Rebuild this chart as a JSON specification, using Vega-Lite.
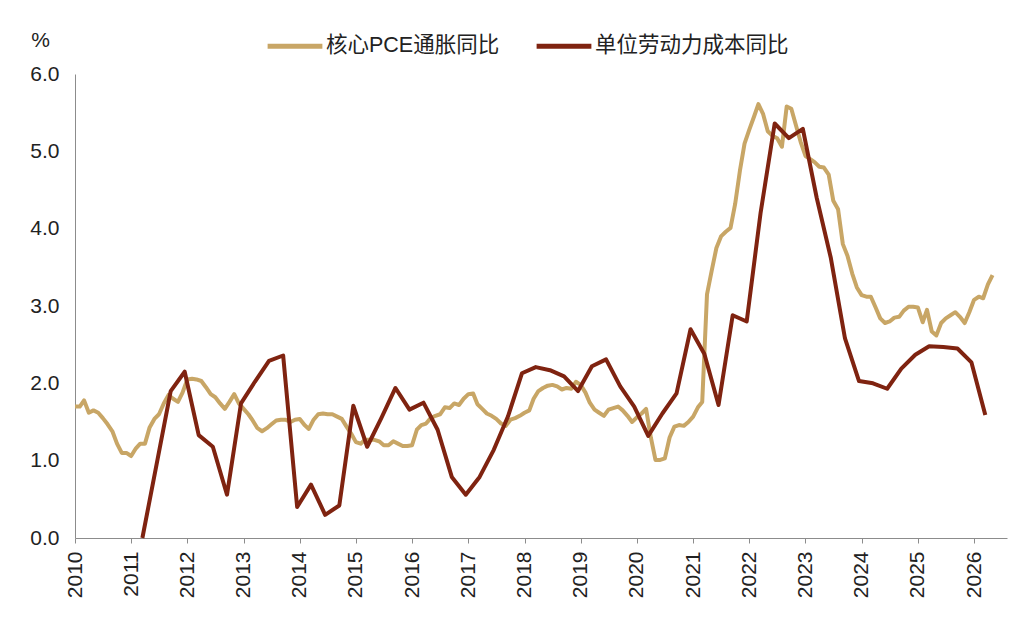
{
  "$schema": "https://vega.github.io/schema/vega-lite/v6.json",
  "width": 932,
  "height": 464,
  "autosize": "none",
  "padding": {"left": 75, "top": 74, "right": 18, "bottom": 89},
  "background": "white",
  "config": {
    "view": {"stroke": null},
    "font": "Liberation Sans, Noto Sans CJK SC",
    "axis": {
      "grid": false,
      "domainColor": "#8c8c8c",
      "tickColor": "#8c8c8c",
      "labelColor": "#222222",
      "labelFont": "Liberation Sans",
      "labelFontSize": 21,
      "titleColor": "#222222"
    }
  },
  "encoding": {
    "x": {
      "field": "date",
      "type": "temporal",
      "scale": {
        "type": "utc",
        "nice": false,
        "domain": [
          {"year": 2010, "month": 1, "date": 1, "utc": true},
          {"year": 2026, "month": 8, "date": 3, "utc": true}
        ]
      },
      "axis": {
        "title": null,
        "format": "%Y",
        "tickCount": {"interval": "year", "step": 1},
        "labelAngle": 270,
        "labelPadding": 8,
        "tickSize": 5,
        "labelFlush": false,
        "labelOverlap": false
      }
    },
    "y": {
      "field": "value",
      "type": "quantitative",
      "scale": {"domain": [0, 6], "nice": false},
      "axis": {
        "values": [0, 1, 2, 3, 4, 5, 6],
        "format": ".1f",
        "ticks": false,
        "labelPadding": 16,
        "title": "%",
        "titleAngle": 0,
        "titleX": -35,
        "titleY": -34,
        "titleAlign": "center",
        "titleBaseline": "middle",
        "titleFontSize": 21,
        "titleFontWeight": "normal",
        "titleFont": "Liberation Sans"
      }
    }
  },
  "layer": [
    {
      "data": {
        "values": [
          {"date": "2010-01-01", "value": 1.70}, {"date": "2010-02-01", "value": 1.70}, {"date": "2010-03-01", "value": 1.78}, {"date": "2010-04-01", "value": 1.62},
          {"date": "2010-05-01", "value": 1.65}, {"date": "2010-06-01", "value": 1.62}, {"date": "2010-07-01", "value": 1.55}, {"date": "2010-08-01", "value": 1.47},
          {"date": "2010-09-01", "value": 1.38}, {"date": "2010-10-01", "value": 1.22}, {"date": "2010-11-01", "value": 1.10}, {"date": "2010-12-01", "value": 1.10},
          {"date": "2011-01-01", "value": 1.06}, {"date": "2011-02-01", "value": 1.16}, {"date": "2011-03-01", "value": 1.22}, {"date": "2011-04-01", "value": 1.22},
          {"date": "2011-05-01", "value": 1.43}, {"date": "2011-06-01", "value": 1.54}, {"date": "2011-07-01", "value": 1.60}, {"date": "2011-08-01", "value": 1.74},
          {"date": "2011-09-01", "value": 1.85}, {"date": "2011-10-01", "value": 1.80}, {"date": "2011-11-01", "value": 1.76}, {"date": "2011-12-01", "value": 1.88},
          {"date": "2012-01-01", "value": 2.05}, {"date": "2012-02-01", "value": 2.06}, {"date": "2012-03-01", "value": 2.05}, {"date": "2012-04-01", "value": 2.03},
          {"date": "2012-05-01", "value": 1.95}, {"date": "2012-06-01", "value": 1.86}, {"date": "2012-07-01", "value": 1.82}, {"date": "2012-08-01", "value": 1.74},
          {"date": "2012-09-01", "value": 1.67}, {"date": "2012-10-01", "value": 1.76}, {"date": "2012-11-01", "value": 1.86}, {"date": "2012-12-01", "value": 1.74},
          {"date": "2013-01-01", "value": 1.67}, {"date": "2013-02-01", "value": 1.60}, {"date": "2013-03-01", "value": 1.52}, {"date": "2013-04-01", "value": 1.42},
          {"date": "2013-05-01", "value": 1.38}, {"date": "2013-06-01", "value": 1.42}, {"date": "2013-07-01", "value": 1.47}, {"date": "2013-08-01", "value": 1.52},
          {"date": "2013-09-01", "value": 1.53}, {"date": "2013-10-01", "value": 1.53}, {"date": "2013-11-01", "value": 1.50}, {"date": "2013-12-01", "value": 1.53},
          {"date": "2014-01-01", "value": 1.54}, {"date": "2014-02-01", "value": 1.46}, {"date": "2014-03-01", "value": 1.41}, {"date": "2014-04-01", "value": 1.53},
          {"date": "2014-05-01", "value": 1.60}, {"date": "2014-06-01", "value": 1.61}, {"date": "2014-07-01", "value": 1.60}, {"date": "2014-08-01", "value": 1.60},
          {"date": "2014-09-01", "value": 1.57}, {"date": "2014-10-01", "value": 1.54}, {"date": "2014-11-01", "value": 1.44}, {"date": "2014-12-01", "value": 1.35},
          {"date": "2015-01-01", "value": 1.24}, {"date": "2015-02-01", "value": 1.22}, {"date": "2015-03-01", "value": 1.27}, {"date": "2015-04-01", "value": 1.27},
          {"date": "2015-05-01", "value": 1.27}, {"date": "2015-06-01", "value": 1.25}, {"date": "2015-07-01", "value": 1.20}, {"date": "2015-08-01", "value": 1.20},
          {"date": "2015-09-01", "value": 1.25}, {"date": "2015-10-01", "value": 1.22}, {"date": "2015-11-01", "value": 1.19}, {"date": "2015-12-01", "value": 1.19},
          {"date": "2016-01-01", "value": 1.20}, {"date": "2016-02-01", "value": 1.40}, {"date": "2016-03-01", "value": 1.46}, {"date": "2016-04-01", "value": 1.48},
          {"date": "2016-05-01", "value": 1.55}, {"date": "2016-06-01", "value": 1.58}, {"date": "2016-07-01", "value": 1.60}, {"date": "2016-08-01", "value": 1.69},
          {"date": "2016-09-01", "value": 1.68}, {"date": "2016-10-01", "value": 1.74}, {"date": "2016-11-01", "value": 1.72}, {"date": "2016-12-01", "value": 1.80},
          {"date": "2017-01-01", "value": 1.86}, {"date": "2017-02-01", "value": 1.87}, {"date": "2017-03-01", "value": 1.73}, {"date": "2017-04-01", "value": 1.67},
          {"date": "2017-05-01", "value": 1.61}, {"date": "2017-06-01", "value": 1.58}, {"date": "2017-07-01", "value": 1.54}, {"date": "2017-08-01", "value": 1.48},
          {"date": "2017-09-01", "value": 1.45}, {"date": "2017-10-01", "value": 1.53}, {"date": "2017-11-01", "value": 1.55}, {"date": "2017-12-01", "value": 1.58},
          {"date": "2018-01-01", "value": 1.62}, {"date": "2018-02-01", "value": 1.65}, {"date": "2018-03-01", "value": 1.80}, {"date": "2018-04-01", "value": 1.90},
          {"date": "2018-05-01", "value": 1.94}, {"date": "2018-06-01", "value": 1.97}, {"date": "2018-07-01", "value": 1.98}, {"date": "2018-08-01", "value": 1.96},
          {"date": "2018-09-01", "value": 1.92}, {"date": "2018-10-01", "value": 1.94}, {"date": "2018-11-01", "value": 1.93}, {"date": "2018-12-01", "value": 2.02},
          {"date": "2019-01-01", "value": 1.98}, {"date": "2019-02-01", "value": 1.88}, {"date": "2019-03-01", "value": 1.75}, {"date": "2019-04-01", "value": 1.66},
          {"date": "2019-05-01", "value": 1.62}, {"date": "2019-06-01", "value": 1.58}, {"date": "2019-07-01", "value": 1.66}, {"date": "2019-08-01", "value": 1.68},
          {"date": "2019-09-01", "value": 1.70}, {"date": "2019-10-01", "value": 1.65}, {"date": "2019-11-01", "value": 1.58}, {"date": "2019-12-01", "value": 1.50},
          {"date": "2020-01-01", "value": 1.56}, {"date": "2020-02-01", "value": 1.61}, {"date": "2020-03-01", "value": 1.67}, {"date": "2020-04-01", "value": 1.30},
          {"date": "2020-05-01", "value": 1.01}, {"date": "2020-06-01", "value": 1.01}, {"date": "2020-07-01", "value": 1.03}, {"date": "2020-08-01", "value": 1.30},
          {"date": "2020-09-01", "value": 1.44}, {"date": "2020-10-01", "value": 1.46}, {"date": "2020-11-01", "value": 1.45}, {"date": "2020-12-01", "value": 1.50},
          {"date": "2021-01-01", "value": 1.57}, {"date": "2021-02-01", "value": 1.69}, {"date": "2021-03-01", "value": 1.76}, {"date": "2021-04-01", "value": 3.15},
          {"date": "2021-05-01", "value": 3.45}, {"date": "2021-06-01", "value": 3.75}, {"date": "2021-07-01", "value": 3.90}, {"date": "2021-08-01", "value": 3.96},
          {"date": "2021-09-01", "value": 4.01}, {"date": "2021-10-01", "value": 4.32}, {"date": "2021-11-01", "value": 4.75}, {"date": "2021-12-01", "value": 5.10},
          {"date": "2022-01-01", "value": 5.28}, {"date": "2022-02-01", "value": 5.45}, {"date": "2022-03-01", "value": 5.61}, {"date": "2022-04-01", "value": 5.48},
          {"date": "2022-05-01", "value": 5.26}, {"date": "2022-06-01", "value": 5.20}, {"date": "2022-07-01", "value": 5.17}, {"date": "2022-08-01", "value": 5.06},
          {"date": "2022-09-01", "value": 5.58}, {"date": "2022-10-01", "value": 5.55}, {"date": "2022-11-01", "value": 5.33}, {"date": "2022-12-01", "value": 5.12},
          {"date": "2023-01-01", "value": 4.94}, {"date": "2023-02-01", "value": 4.90}, {"date": "2023-03-01", "value": 4.86}, {"date": "2023-04-01", "value": 4.80},
          {"date": "2023-05-01", "value": 4.79}, {"date": "2023-06-01", "value": 4.70}, {"date": "2023-07-01", "value": 4.36}, {"date": "2023-08-01", "value": 4.25},
          {"date": "2023-09-01", "value": 3.80}, {"date": "2023-10-01", "value": 3.65}, {"date": "2023-11-01", "value": 3.42}, {"date": "2023-12-01", "value": 3.24},
          {"date": "2024-01-01", "value": 3.14}, {"date": "2024-02-01", "value": 3.12}, {"date": "2024-03-01", "value": 3.12}, {"date": "2024-04-01", "value": 2.98},
          {"date": "2024-05-01", "value": 2.84}, {"date": "2024-06-01", "value": 2.78}, {"date": "2024-07-01", "value": 2.80}, {"date": "2024-08-01", "value": 2.85},
          {"date": "2024-09-01", "value": 2.86}, {"date": "2024-10-01", "value": 2.94}, {"date": "2024-11-01", "value": 2.99}, {"date": "2024-12-01", "value": 2.99},
          {"date": "2025-01-01", "value": 2.98}, {"date": "2025-02-01", "value": 2.79}, {"date": "2025-03-01", "value": 2.95}, {"date": "2025-04-01", "value": 2.67},
          {"date": "2025-05-01", "value": 2.62}, {"date": "2025-06-01", "value": 2.78}, {"date": "2025-07-01", "value": 2.84}, {"date": "2025-08-01", "value": 2.88},
          {"date": "2025-09-01", "value": 2.92}, {"date": "2025-10-01", "value": 2.86}, {"date": "2025-11-01", "value": 2.78}, {"date": "2025-12-01", "value": 2.92},
          {"date": "2026-01-01", "value": 3.08}, {"date": "2026-02-01", "value": 3.12}, {"date": "2026-03-01", "value": 3.10}, {"date": "2026-04-01", "value": 3.28},
          {"date": "2026-05-01", "value": 3.40}
        ]
      },
      "mark": {"type": "line", "strokeWidth": 4, "strokeJoin": "round"},
      "encoding": {
        "color": {
          "datum": "核心PCE通胀同比",
          "type": "nominal",
          "scale": {
            "domain": ["核心PCE通胀同比", "单位劳动力成本同比"],
            "range": ["#C8A666", "#7F2310"]
          },
          "legend": {
            "title": null,
            "orient": "none",
            "legendX": 190,
            "legendY": -58,
            "direction": "horizontal",
            "padding": 0,
            "symbolType": "stroke",
            "symbolSize": 3000,
            "symbolStrokeWidth": 5,
            "labelOffset": 1,
            "columnPadding": 26,
            "labelFontSize": 21.5,
            "labelColor": "#222222",
            "labelFont": "Liberation Sans, Noto Sans CJK SC",
            "labelLimit": 400
          }
        }
      }
    },
    {
      "data": {
        "values": [
          {"date": "2011-03-15", "value": 0.00}, {"date": "2011-06-15", "value": 0.95}, {"date": "2011-09-15", "value": 1.90}, {"date": "2011-12-15", "value": 2.15},
          {"date": "2012-03-15", "value": 1.33}, {"date": "2012-06-15", "value": 1.18}, {"date": "2012-09-15", "value": 0.56}, {"date": "2012-12-15", "value": 1.74},
          {"date": "2013-03-15", "value": 2.02}, {"date": "2013-06-15", "value": 2.29}, {"date": "2013-09-15", "value": 2.36}, {"date": "2013-12-15", "value": 0.40},
          {"date": "2014-03-15", "value": 0.69}, {"date": "2014-06-15", "value": 0.30}, {"date": "2014-09-15", "value": 0.42}, {"date": "2014-12-15", "value": 1.71},
          {"date": "2015-03-15", "value": 1.18}, {"date": "2015-06-15", "value": 1.55}, {"date": "2015-09-15", "value": 1.94}, {"date": "2015-12-15", "value": 1.66},
          {"date": "2016-03-15", "value": 1.75}, {"date": "2016-06-15", "value": 1.40}, {"date": "2016-09-15", "value": 0.79}, {"date": "2016-12-15", "value": 0.56},
          {"date": "2017-03-15", "value": 0.79}, {"date": "2017-06-15", "value": 1.14}, {"date": "2017-09-15", "value": 1.57}, {"date": "2017-12-15", "value": 2.13},
          {"date": "2018-03-15", "value": 2.21}, {"date": "2018-06-15", "value": 2.17}, {"date": "2018-09-15", "value": 2.09}, {"date": "2018-12-15", "value": 1.90},
          {"date": "2019-03-15", "value": 2.22}, {"date": "2019-06-15", "value": 2.31}, {"date": "2019-09-15", "value": 1.96}, {"date": "2019-12-15", "value": 1.70},
          {"date": "2020-03-15", "value": 1.32}, {"date": "2020-06-15", "value": 1.61}, {"date": "2020-09-15", "value": 1.87}, {"date": "2020-12-15", "value": 2.70},
          {"date": "2021-03-15", "value": 2.38}, {"date": "2021-06-15", "value": 1.72}, {"date": "2021-09-15", "value": 2.88}, {"date": "2021-12-15", "value": 2.80},
          {"date": "2022-03-15", "value": 4.20}, {"date": "2022-06-15", "value": 5.36}, {"date": "2022-09-15", "value": 5.17}, {"date": "2022-12-15", "value": 5.29},
          {"date": "2023-03-15", "value": 4.40}, {"date": "2023-06-15", "value": 3.62}, {"date": "2023-09-15", "value": 2.58}, {"date": "2023-12-15", "value": 2.03},
          {"date": "2024-03-15", "value": 2.00}, {"date": "2024-06-15", "value": 1.93}, {"date": "2024-09-15", "value": 2.19}, {"date": "2024-12-15", "value": 2.37},
          {"date": "2025-03-15", "value": 2.48}, {"date": "2025-06-15", "value": 2.47}, {"date": "2025-09-15", "value": 2.45}, {"date": "2025-12-15", "value": 2.27},
          {"date": "2026-03-15", "value": 1.59}
        ]
      },
      "mark": {"type": "line", "strokeWidth": 4, "strokeJoin": "round"},
      "encoding": {
        "color": {"datum": "单位劳动力成本同比", "type": "nominal"}
      }
    }
  ]
}
